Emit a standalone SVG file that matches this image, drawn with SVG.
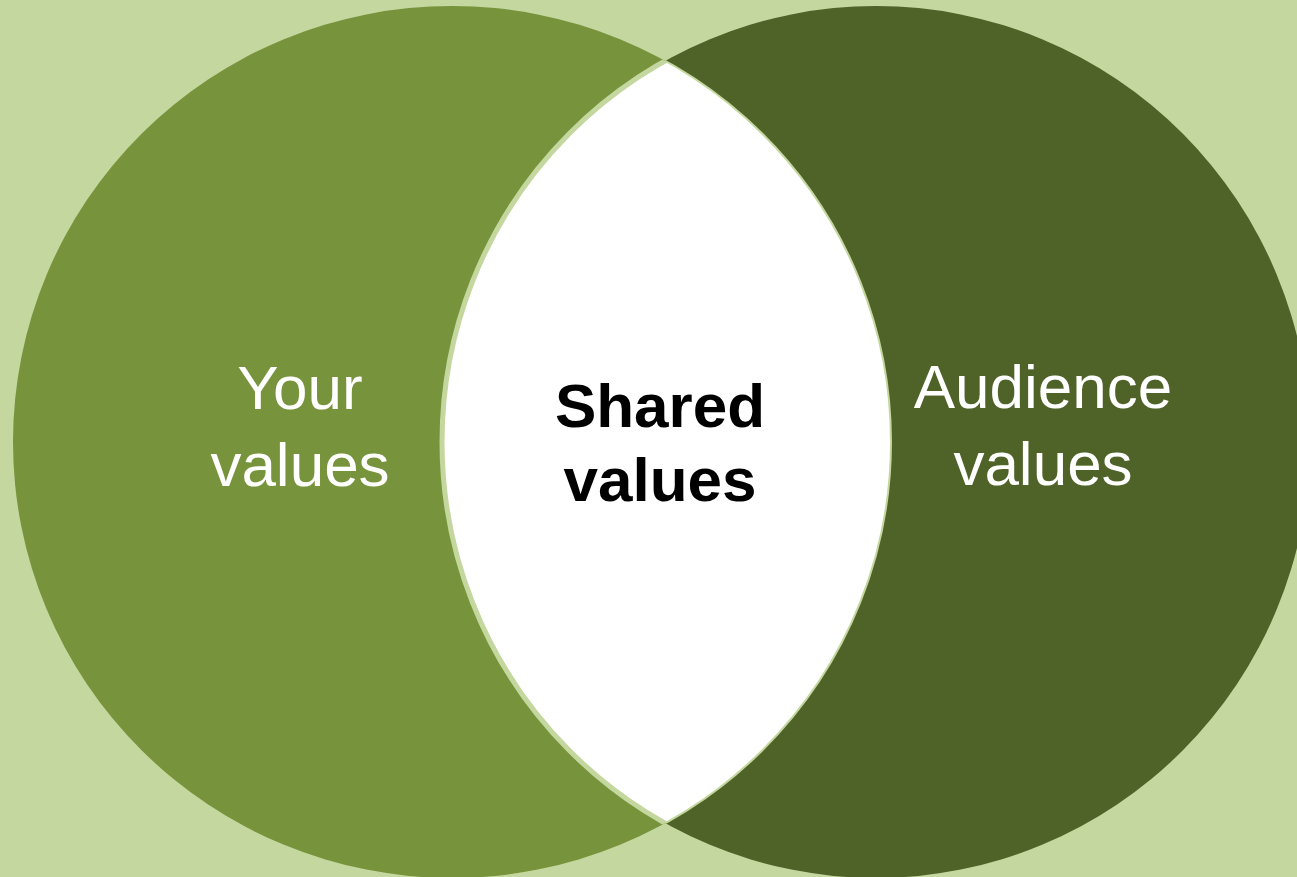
<svg xmlns="http://www.w3.org/2000/svg" width="1297" height="877" viewBox="0 0 1297 877">
<style>
.lbl{font-family:"Liberation Sans",Arial,sans-serif;font-size:62px;fill:#ffffff;text-anchor:middle}
.bold{font-family:"Liberation Sans",Arial,sans-serif;font-size:62px;font-weight:bold;fill:#000000;text-anchor:middle}
</style>
<defs>
<clipPath id="clipLeft"><ellipse cx="452" cy="442" rx="439" ry="436"/></clipPath>
<clipPath id="clipRight"><ellipse cx="876" cy="442" rx="434" ry="436"/></clipPath>
</defs>
<rect width="1297" height="877" fill="#C4D79F"/>
<g id="your-values">
<ellipse cx="452" cy="442" rx="439" ry="436" fill="#77933C"/>
<text class="lbl" x="300" y="409">Your</text>
<text class="lbl" x="300" y="486">values</text>
</g>
<g id="audience-values">
<ellipse cx="876" cy="442" rx="434" ry="436" fill="#4F6228"/>
<text class="lbl" x="1043" y="408">Audience</text>
<text class="lbl" x="1043" y="485">values</text>
</g>
<g id="shared-values">
<ellipse cx="876" cy="442" rx="434" ry="436" fill="#ffffff" stroke="#C4D79F" stroke-width="5" clip-path="url(#clipLeft)"/>
<ellipse cx="452" cy="442" rx="439" ry="436" fill="none" stroke="#C4D79F" stroke-width="2" clip-path="url(#clipRight)"/>
<text class="bold" x="660" y="427">Shared</text>
<text class="bold" x="660" y="501">values</text>
</g>
<g id="connectors"/>
</svg>
